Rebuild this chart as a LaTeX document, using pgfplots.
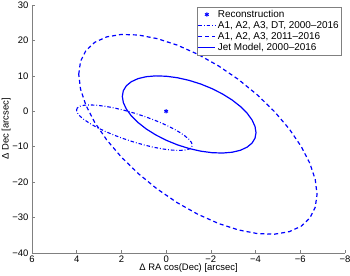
\documentclass[border=0pt]{standalone}
\usepackage{fontspec}
\setmainfont{Liberation Sans}
\usepackage{pgfplots}
\pgfplotsset{compat=1.18}
\definecolor{axgray}{RGB}{128,128,128}
\definecolor{mblue}{RGB}{0,0,255}
\begin{document}
\begin{tikzpicture}
\begin{axis}[
  name=main,
  scale only axis,
  width=313bp, height=248bp,
  xmin=-8, xmax=6, ymin=-40, ymax=30,
  x dir=reverse,
  axis lines*=left,
  axis line style={axgray,-},
  tick style={axgray, line width=0.5pt},
  tick align=inside,
  major tick length=3bp,
  xtick={-8,-6,-4,-2,0,2,4,6},
  xticklabels={−8,−6,−4,−2,0,2,4,6},
  ytick={-40,-30,-20,-10,0,10,20,30},
  yticklabels={−40,−30,−20,−10,0,10,20,30},
  tick label style={font=\fontsize{9.5}{10}\selectfont, text=black},
  xticklabel style={yshift=1pt},
  xlabel={Δ RA cos(Dec) [arcsec]},
  ylabel={Δ Dec [arcsec]},
  label style={font=\fontsize{9.5}{10}\selectfont},
  xlabel style={yshift=5pt},
  ylabel style={yshift=-5pt},
  legend style={at={(0.99,0.992)}, anchor=north east, draw=axgray, font=\fontsize{10}{11}\selectfont, inner sep=1pt, row sep=-1.5pt, cells={anchor=west}},
  legend cell align=left,
]
\addplot[only marks, mark=asterisk, mark size=2.2pt, color=mblue, mark options={line width=0.9pt}] coordinates {(0,0)};
\addlegendentry{Reconstruction}

% A1, A2, A3, DT, 2000-2016 (dash-dot)
\addplot[color=mblue, line width=1.1pt, dash pattern=on 3.5pt off 2pt on 0.8pt off 2pt] coordinates {
(4.01,0.32) (3.971,0.96) (3.854,1.42) (3.663,1.71) (3.404,1.80) (3.085,1.69)
(2.715,1.40) (2.306,0.92) (1.87,0.27) (1.42,-0.53) (0.97,-1.45) (0.534,-2.47)
(0.125,-3.55) (-0.245,-4.67) (-0.564,-5.79) (-0.823,-6.87) (-1.014,-7.88) (-1.131,-8.79)
(-1.17,-9.58) (-1.131,-10.22) (-1.014,-10.68) (-0.823,-10.97) (-0.564,-11.06) (-0.245,-10.95)
(0.125,-10.66) (0.534,-10.19) (0.97,-9.53) (1.42,-8.73) (1.87,-7.81) (2.306,-6.79)
(2.715,-5.71) (3.085,-4.59) (3.404,-3.47) (3.663,-2.39) (3.854,-1.38) (3.971,-0.47)
(4.01,0.32)};
\addlegendentry{A1, A2, A3, DT, 2000--2016}

% A1, A2, A3, 2011-2016 (dashed)
\addplot[color=mblue, line width=1.2pt, dash pattern=on 4pt off 3pt] coordinates {
(3.91,10.44) (3.829,14.10) (3.589,17.14) (3.196,19.46) (2.663,20.99) (2.006,21.69)
(1.245,21.53) (0.403,20.51) (-0.495,18.68) (-1.42,16.08) (-2.345,12.80) (-3.243,8.93)
(-4.085,4.59) (-4.846,-0.09) (-5.503,-4.96) (-6.036,-9.88) (-6.429,-14.70) (-6.669,-19.26)
(-6.75,-23.44) (-6.669,-27.10) (-6.429,-30.14) (-6.036,-32.46) (-5.503,-33.99) (-4.846,-34.69)
(-4.085,-34.53) (-3.243,-33.51) (-2.345,-31.68) (-1.42,-29.08) (-0.495,-25.80) (0.403,-21.93)
(1.245,-17.59) (2.006,-12.91) (2.663,-8.04) (3.196,-3.12) (3.589,1.70) (3.829,6.26)
(3.91,10.44)};
\addlegendentry{A1, A2, A3, 2011--2016}

% Jet Model (solid)
\addplot[color=mblue, line width=1.2pt] coordinates {
(1.96,4.22) (1.915,5.81) (1.78,7.20) (1.559,8.34) (1.26,9.21) (0.892,9.76)
(0.465,9.99) (-0.007,9.89) (-0.511,9.46) (-1.03,8.72) (-1.549,7.69) (-2.053,6.39)
(-2.525,4.87) (-2.952,3.18) (-3.32,1.36) (-3.619,-0.52) (-3.84,-2.42) (-3.975,-4.27)
(-4.02,-6.02) (-3.975,-7.61) (-3.84,-9.00) (-3.619,-10.14) (-3.32,-11.01) (-2.952,-11.56)
(-2.525,-11.79) (-2.053,-11.69) (-1.549,-11.26) (-1.03,-10.52) (-0.511,-9.49) (-0.007,-8.19)
(0.465,-6.67) (0.892,-4.98) (1.26,-3.16) (1.559,-1.28) (1.78,0.62) (1.915,2.47)
(1.96,4.22)};
\addlegendentry{Jet Model, 2000--2016}
\end{axis}
\pgfresetboundingbox
\path[use as bounding box] ([shift={(-32bp,-23bp)}]main.south west) rectangle ([shift={(5bp,5bp)}]main.north east);
\end{tikzpicture}
\end{document}
